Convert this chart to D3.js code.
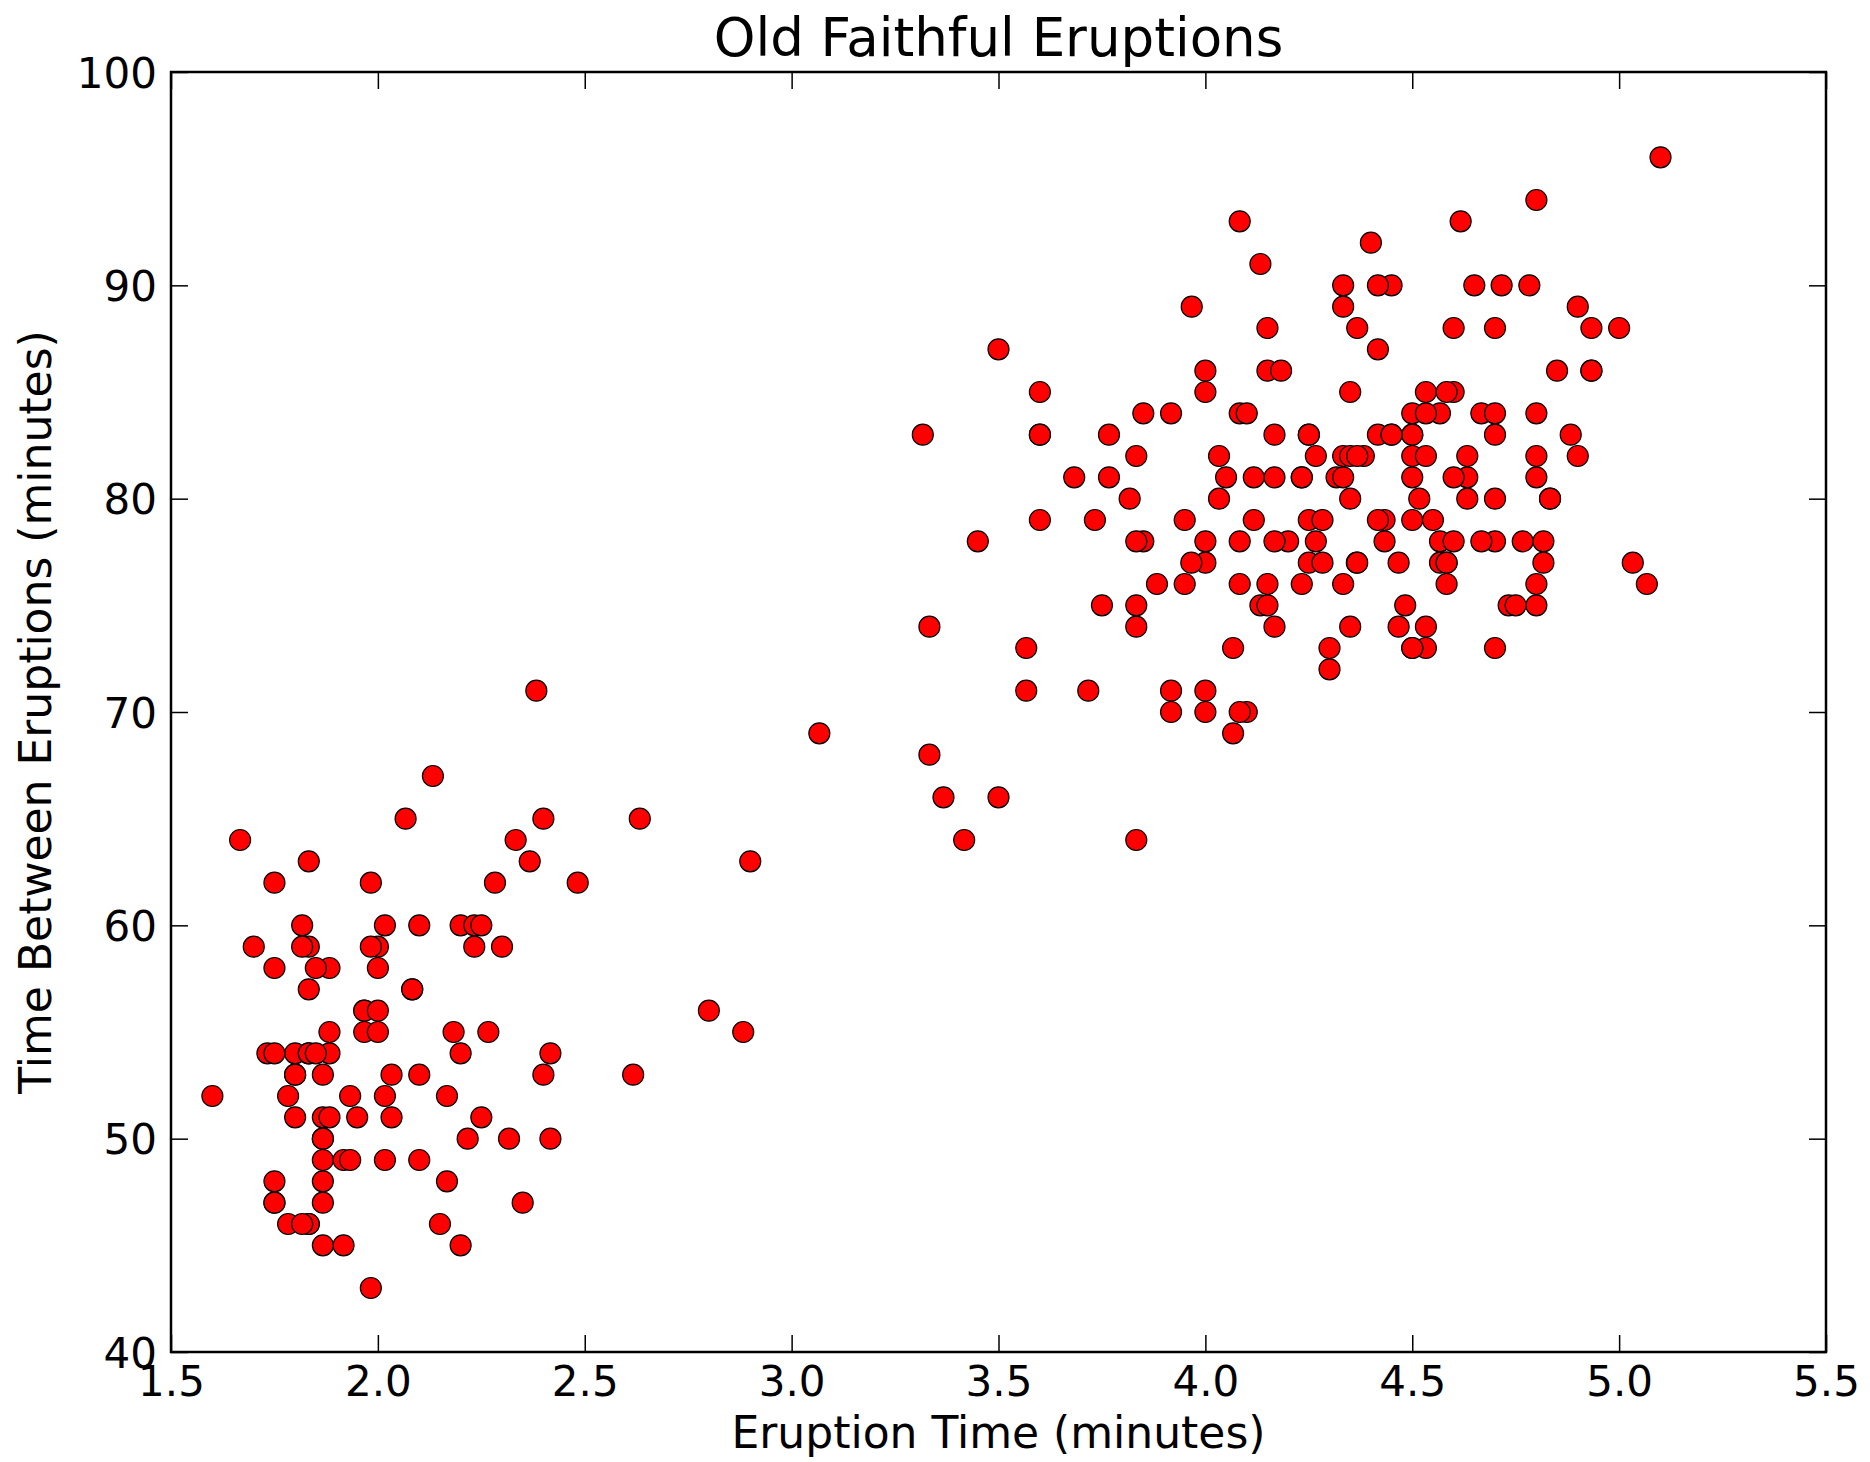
<!DOCTYPE html>
<html>
<head>
<meta charset="utf-8">
<script src="https://cdn.jsdelivr.net/npm/d3@7"></script>
<style>
  body { margin: 0; background: #fff; }
  text { font-family: "DejaVu Sans", sans-serif; fill: #000; }
</style>
</head>
<body>
<div id="chart"></div>
<script>
const eruptions = [
  3.600,1.800,3.333,2.283,4.533,2.883,4.700,3.600,1.950,4.350,1.833,3.917,4.200,1.750,4.700,2.167,1.750,4.800,1.600,4.250,
  1.800,1.750,3.450,3.067,4.533,3.600,1.967,4.083,3.850,4.433,4.300,4.467,3.367,4.033,3.833,2.017,1.867,4.833,1.833,4.783,
  4.350,1.883,4.567,1.750,4.533,3.317,3.833,2.100,4.633,2.000,4.800,4.716,1.833,4.833,1.733,4.883,3.717,1.667,4.567,4.317,
  2.233,4.500,1.750,4.800,1.817,4.400,4.167,4.700,2.067,4.700,4.033,1.967,4.500,4.000,1.983,5.067,2.017,4.567,3.883,3.600,
  4.133,4.333,4.100,2.633,4.067,4.933,3.950,4.517,2.167,4.000,2.200,4.333,1.867,4.817,1.833,4.300,4.667,3.750,1.867,4.900,
  2.483,4.367,2.100,4.500,4.050,1.867,4.700,1.783,4.850,3.683,4.733,2.300,4.900,4.417,1.700,4.633,2.317,4.600,1.817,4.417,
  2.617,4.067,4.250,1.967,4.600,3.767,1.917,4.500,2.267,4.650,1.867,4.167,2.800,4.333,1.833,4.383,1.883,4.933,2.033,3.733,
  4.233,2.233,4.533,4.817,4.333,1.983,4.633,2.017,5.100,1.800,5.033,4.000,2.400,4.600,3.567,4.000,4.500,4.083,1.800,3.967,
  2.200,4.150,2.000,3.833,3.500,4.583,2.367,5.000,1.933,4.617,1.917,2.083,4.583,3.333,4.167,4.333,4.500,2.417,4.000,4.167,
  1.883,4.583,4.250,3.767,2.033,4.433,4.083,1.833,4.417,2.183,4.800,1.833,4.800,4.100,3.966,4.233,3.500,4.366,2.250,4.667,
  2.100,4.350,4.133,1.867,4.600,1.783,4.367,3.850,1.933,4.500,2.383,4.700,1.867,3.833,3.417,4.233,2.400,4.800,2.000,4.150,
  1.867,4.267,1.750,4.483,4.000,4.117,4.083,4.267,3.917,4.550,4.083,2.417,4.183,2.217,4.450,1.883,1.850,4.283,3.950,2.333,
  4.150,2.350,4.933,2.900,4.583,3.833,2.083,4.367,2.133,4.350,2.200,4.450,3.567,4.500,4.150,3.817,3.917,4.450,2.000,4.283,
  4.767,4.533,1.850,4.250,1.983,2.250,4.750,4.117,2.150,4.417,1.817,4.467
];
const waiting = [
  79,54,74,62,85,55,88,85,51,85,54,84,78,47,83,52,62,84,52,79,
  51,47,78,69,74,83,55,76,78,79,73,77,66,80,74,52,48,80,59,90,
  80,58,84,58,73,83,64,53,82,59,75,90,54,80,54,83,71,64,77,81,
  59,84,48,82,60,92,78,78,65,73,82,56,79,71,62,76,60,78,76,83,
  75,82,70,65,73,88,76,80,48,86,60,90,50,78,63,72,84,75,51,82,
  62,88,49,83,81,47,84,52,86,81,75,59,89,79,59,81,50,85,59,87,
  53,69,77,56,88,81,45,82,55,90,45,83,56,89,46,82,51,86,53,79,
  81,60,82,77,76,59,80,49,96,53,77,77,65,81,71,70,81,93,53,89,
  45,86,58,78,66,76,63,88,52,93,49,57,77,68,81,81,73,50,85,74,
  55,77,83,83,51,78,84,46,83,55,81,57,76,84,77,81,87,77,51,78,
  60,82,91,53,78,46,77,84,49,83,71,80,49,75,64,76,53,94,55,76,
  50,82,54,75,78,79,78,78,70,79,70,54,86,50,90,54,54,77,79,64,
  75,47,86,63,85,82,57,82,67,74,54,83,73,73,88,80,71,83,56,79,
  78,84,58,83,43,60,75,81,46,90,46,74
];
const xTicks = [1.5, 2.0, 2.5, 3.0, 3.5, 4.0, 4.5, 5.0, 5.5];
const yTicks = [40, 50, 60, 70, 80, 90, 100];

const width = 1870, height = 1462;
const margin = {top: 72, right: 44, bottom: 110, left: 171};
const w = width - margin.left - margin.right;
const h = height - margin.top - margin.bottom;

const svg = d3.select('#chart')
  .append('svg')
    .attr('width', width)
    .attr('height', height);

const g = svg.append('g')
  .attr('transform', `translate(${margin.left},${margin.top})`);

const x = d3.scaleLinear().domain([1.5, 5.5]).range([0, w]);
const y = d3.scaleLinear().domain([40, 100]).range([h, 0]);

// ticks point inward on all four sides
const tickLen = 17;
const fmt = d3.format('.1f');

const xBottom = g.append('g')
  .attr('transform', `translate(0,${h})`)
  .call(d3.axisBottom(x).tickValues(xTicks).tickFormat(fmt).tickSizeInner(-tickLen).tickSizeOuter(0).tickPadding(14));
const xTop = g.append('g')
  .call(d3.axisTop(x).tickValues(xTicks).tickFormat('').tickSizeInner(-tickLen).tickSizeOuter(0));
const yLeft = g.append('g')
  .call(d3.axisLeft(y).tickValues(yTicks).tickSizeInner(-tickLen).tickSizeOuter(0).tickPadding(14));
const yRight = g.append('g')
  .attr('transform', `translate(${w},0)`)
  .call(d3.axisRight(y).tickValues(yTicks).tickFormat('').tickSizeInner(-tickLen).tickSizeOuter(0));

[xBottom, xTop, yLeft, yRight].forEach(a => {
  a.select('.domain').remove();
  a.selectAll('.tick line').attr('stroke', '#000').attr('stroke-width', 1.5);
  a.selectAll('.tick text').style('font-size', '42px').style('font-family', '"DejaVu Sans", sans-serif');
});
xBottom.selectAll('.tick text').attr('dy', '0.71em');
yLeft.selectAll('.tick text').attr('dy', '0.36em');

const pts = eruptions.map((e, i) => ({e: e, wt: waiting[i]}));

g.append('g')
  .selectAll('circle')
  .data(pts)
  .enter()
  .append('circle')
    .attr('cx', d => x(d.e))
    .attr('cy', d => y(d.wt))
    .attr('r', 10.5)
    .attr('fill', '#ff0000')
    .attr('stroke', '#000')
    .attr('stroke-width', 1.2);

g.append('rect')
  .attr('width', w)
  .attr('height', h)
  .attr('fill', 'none')
  .attr('stroke', '#000')
  .attr('stroke-width', 2.5);

svg.append('text')
  .attr('x', margin.left + w / 2)
  .attr('y', 56)
  .attr('text-anchor', 'middle')
  .style('font-size', '53px')
  .text('Old Faithful Eruptions');

svg.append('text')
  .attr('x', margin.left + w / 2)
  .attr('y', 1448)
  .attr('text-anchor', 'middle')
  .style('font-size', '44px')
  .text('Eruption Time (minutes)');

svg.append('text')
  .attr('transform', `translate(51,${margin.top + h / 2}) rotate(-90)`)
  .attr('text-anchor', 'middle')
  .style('font-size', '44px')
  .text('Time Between Eruptions (minutes)');
</script>
</body>
</html>
